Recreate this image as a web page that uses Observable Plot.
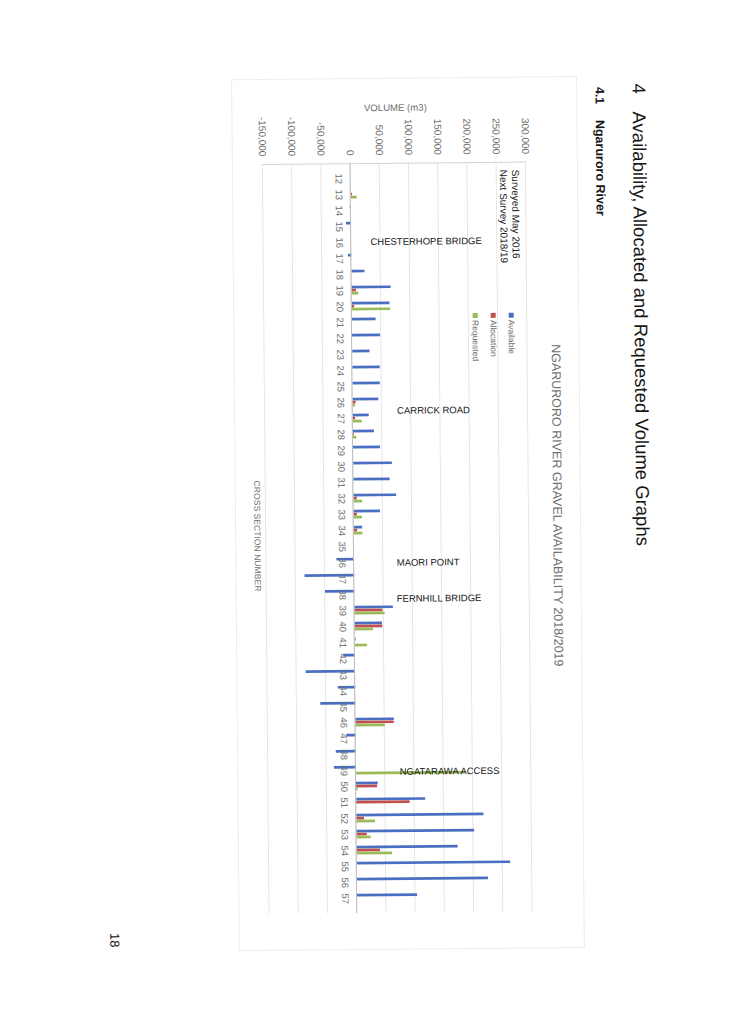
<!DOCTYPE html>
<html><head><meta charset="utf-8">
<script src="https://cdn.jsdelivr.net/npm/d3@7"></script>
<script src="https://cdn.jsdelivr.net/npm/@observablehq/plot@0.6"></script>
<style>
html,body{margin:0;padding:0;background:#fff;}
body{width:732px;height:1035px;overflow:hidden;position:relative;font-family:"Liberation Sans",Arial,sans-serif;}
#page{position:absolute;left:0;top:0;width:732px;height:1035px;transform-origin:366px 517.5px;transform:rotate(-0.51deg);}
#land{position:absolute;left:0;top:0;width:1035px;height:732px;transform-origin:0 0;transform:translate(732px,0) rotate(90deg);}
#land svg{position:absolute;left:0;top:0;}
.t{position:absolute;white-space:nowrap;line-height:1;transform:translateY(-50%);}
.c{position:absolute;white-space:nowrap;line-height:1;transform:translate(-50%,-50%);}
.sw{position:absolute;width:5px;height:5px;transform:translateY(-50%);}
#border{position:absolute;left:78px;top:151px;width:870px;height:344px;border:1px solid #ececec;}
</style></head><body>
<div id="page"><div id="land">
  <div id="border"></div>
  <div id="chart"></div>
  <div class="t" style="left:86px;top:90px;font-size:18.5px;color:#151515">4</div>
  <div class="t" style="left:114px;top:90px;font-size:18.5px;color:#151515">Availability, Allocated and Requested Volume Graphs</div>
  <div class="t" style="left:89px;top:129px;font-size:12.5px;font-weight:bold;color:#151515">4.1</div>
  <div class="t" style="left:122px;top:129px;font-size:12.5px;font-weight:bold;color:#151515">Ngaruroro River</div>
  <div class="c" id="title" style="left:507px;top:175px;font-size:12.5px;color:#6e6e6e">NGARURORO RIVER GRAVEL AVAILABILITY 2018/2019</div>
  <div class="t" style="left:171px;top:214px;font-size:10px;color:#151515">Surveyed May 2016</div>
  <div class="t" style="left:171px;top:225.5px;font-size:10px;color:#151515">Next Survey 2018/19</div>
  <div id="legend"></div>
  <div class="c" style="left:108px;top:333px;font-size:9.6px;color:#6e6e6e;transform:translate(-50%,-50%) rotate(-90deg)">VOLUME (m3)</div>
  <div class="c" style="left:535px;top:475px;font-size:8.6px;color:#6e6e6e">CROSS SECTION NUMBER</div>
  <div class="c" style="left:938px;top:621px;font-size:13px;color:#151515">18</div>
</div></div>
<script>
// ---- data ----
const crossSections = [12,13,14,15,16,17,18,19,20,21,22,23,24,25,26,27,28,29,30,31,32,33,34,35,36,37,38,39,40,41,42,43,44,45,46,47,48,49,50,51,52,53,54,55,56,57];
const available = [0,0,-2000,-8600,0,-5700,22300,66800,64500,40500,47900,29700,46800,46800,43900,27400,36000,46000,66200,62200,73000,45100,14300,0,-30200,-85000,-50200,65600,46800,1500,-20000,-84500,-29700,-59900,65600,-16000,-34200,-37700,37100,118100,217400,201500,172900,262500,224300,102700];
const allocation = [0,2000,0,0,0,0,0,7400,4000,0,0,0,0,0,5000,4000,1500,0,0,0,5700,5700,5700,0,0,0,0,47900,47400,0,0,0,0,0,65600,0,0,0,36000,91300,13100,17700,39900,0,0,0];
const requested = [0,10000,0,0,0,0,0,11400,65600,0,0,0,0,0,4000,15400,5700,0,0,0,14800,14300,14800,0,0,0,0,51400,31400,21100,0,0,0,0,50200,0,0,186600,2500,0,32000,24000,60500,0,0,0];
const seriesNames = ["Available","Allocation","Requested"];
const seriesColors = ["#4a6fc2","#c0504d","#9bbb59"];
const volumeTicks = [-150000,-100000,-50000,0,50000,100000,150000,200000,250000,300000];
const landmarkNames = ["CHESTERHOPE BRIDGE","CARRICK ROAD","MAORI POINT","FERNHILL BRIDGE","NGATARAWA ACCESS"];
const landmarkSections = [16,26,36,38,49];
const landmarkVolumes = [33700,76700,73800,73300,75700];

// ---- build ----
const seriesValues = [available, allocation, requested];
const rows = seriesNames.flatMap((s, si) => crossSections.map((c, i) => ({section: c, series: s, volume: seriesValues[si][i]})));
const landmarks = landmarkNames.map((n, i) => ({name: n, section: landmarkSections[i], volume: landmarkVolumes[i]}));
const nudge = {"CHESTERHOPE BRIDGE": -0.5, "CARRICK ROAD": 8.5, "MAORI POINT": 0.5, "FERNHILL BRIDGE": 4.5, "NGATARAWA ACCESS": 1.5};

const barW = 3;
const band = (913 - 163) / crossSections.length;
const inset = (band - barW) / 2;

const chart = Plot.plot({
  width: 1035, height: 732,
  marginLeft: 163, marginRight: 122, marginTop: 203, marginBottom: 266,
  style: {fontFamily: "Liberation Sans, Arial, sans-serif", background: "transparent", overflow: "visible"},
  x: {type: "band", domain: crossSections, padding: 0, axis: null},
  y: {domain: [-150000, 300000], axis: null},
  marks: [
    Plot.gridY(volumeTicks, {stroke: "#e6e6e6", strokeOpacity: 1}),
    Plot.frame({anchor: "left", stroke: "#d4d4d4"}),
    ...seriesNames.map((s, si) => Plot.barY(rows.filter(d => d.series === s && d.volume !== 0), {
      x: "section", y: "volume", fill: seriesColors[si], insetLeft: inset, insetRight: inset, dx: (si - 1) * barW
    })),
    Plot.ruleY([0], {stroke: "#bdbdbd"}),
    Plot.axisY(volumeTicks, {tickSize: 0, tickPadding: 8, tickFormat: d => d.toLocaleString("en-US"), fontSize: 10, fill: "#6e6e6e", label: null}),
    Plot.text(crossSections, {x: d => d, y: () => 0, text: d => String(d), dy: 11.5, fontSize: 9.5, fill: "#6e6e6e"}),
    ...landmarks.map(l => Plot.text([l], {x: "section", y: "volume", text: "name", rotate: -90, textAnchor: "start", fontSize: 9.5, fill: "#151515", dx: nudge[l.name]}))
  ]
});
document.getElementById("chart").appendChild(chart);

// legend
const leg = document.getElementById("legend");
const legY = [218.5, 237, 255.3];
seriesNames.forEach((s, i) => {
  const sw = document.createElement("div");
  sw.className = "sw"; sw.style.left = "314px"; sw.style.top = legY[i] + "px"; sw.style.background = seriesColors[i];
  leg.appendChild(sw);
  const tx = document.createElement("div");
  tx.className = "t"; tx.style.left = "321px"; tx.style.top = legY[i] + "px"; tx.style.fontSize = "8.5px"; tx.style.color = "#6e6e6e";
  tx.textContent = s;
  leg.appendChild(tx);
});
</script>
</body></html>
